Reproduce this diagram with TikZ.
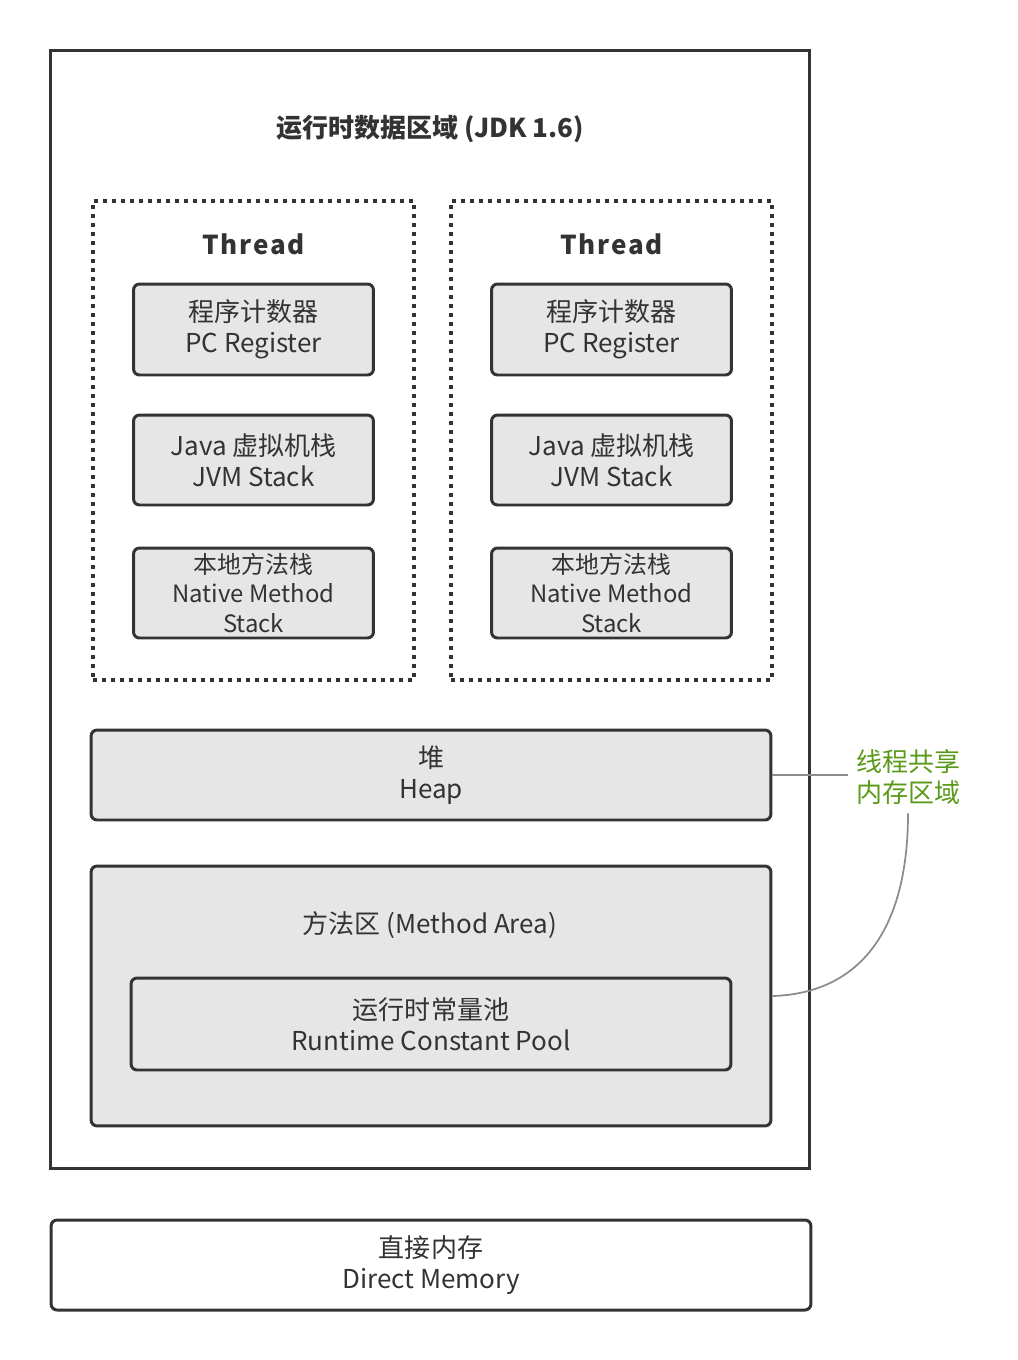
\documentclass[tikz,border=0pt]{standalone}
\usepackage{fontspec}
\setmainfont{Noto Sans CJK SC}
\newfontfamily\spacedfont[LetterSpace=7]{Noto Sans CJK SC}
\definecolor{ink}{HTML}{333333}
\definecolor{boxgray}{HTML}{E6E6E6}
\definecolor{linkgray}{HTML}{8C8C8C}
\definecolor{sharedgreen}{HTML}{5A9A18}
\begin{document}
\begin{tikzpicture}[x=0.02cm, y=-0.02cm,
	every node/.style={text=ink, font=\fontsize{14.8pt}{17.6pt}\selectfont},
	frame/.style={draw=ink, line width=1.7pt, inner sep=0pt},
	threadbox/.style={draw=ink, line width=1.8pt, dash pattern=on 0.08cm off 0.1cm, inner sep=0pt, minimum width=6.42cm, minimum height=9.58cm},
	membox/.style={draw=ink, line width=1.7pt, fill=boxgray, rounded corners=0.12cm, align=center, inner sep=0pt},
	link/.style={draw=linkgray, line width=1pt}]
	\useasboundingbox (0,0) rectangle (1018,1360);
	\node[frame, minimum width=15.2cm, minimum height=22.38cm] (runtime) at (430,609.5) {};
	\node[font=\fontsize{14.8pt}{17.6pt}\selectfont\bfseries] (title) at (430,129) {运行时数据区域 (JDK 1.6)};
	\foreach \x/\n in {253.5/a, 611.5/b} {
		\node[threadbox] (thread\n) at (\x,440.5) {};
		\node[font=\fontsize{14.8pt}{17.6pt}\spacedfont\bfseries] (label\n) at (\x,244) {Thread};
		\node[membox, minimum width=4.8cm, minimum height=1.82cm] (pc\n) at (\x,329.5) {程序计数器\\PC Register};
		\node[membox, minimum width=4.8cm, minimum height=1.8cm] (jvm\n) at (\x,460) {Java 虚拟机栈\\JVM Stack};
		\node[membox, minimum width=4.8cm, minimum height=1.8cm, font=\fontsize{13.6pt}{17pt}\selectfont] (native\n) at (\x,593) {本地方法栈\\Native Method\\Stack};
	}
	\node[membox, minimum width=13.6cm, minimum height=1.8cm] (heap) at (431,775) {堆\\Heap};
	\node[membox, minimum width=13.6cm, minimum height=5.2cm] (area) at (431,996) {};
	\node (areatitle) at (430,925) {方法区 (Method Area)};
	\node[membox, minimum width=12cm, minimum height=1.84cm] (pool) at (431,1024) {运行时常量池\\Runtime Constant Pool};
	\node[membox, fill=white, minimum width=15.2cm, minimum height=1.8cm] (direct) at (431,1265) {直接内存\\Direct Memory};
	\node[text=sharedgreen, align=center, inner sep=0.16cm] (shared) at (908,777.5) {线程共享\\内存区域};
	\draw[link] (heap.east) -- (heap.east -| shared.west);
	\draw[link] (area.east) .. controls +(1.7cm,0.05cm) and +(0,-2.4cm) .. (shared.south);
\end{tikzpicture}
\end{document}
